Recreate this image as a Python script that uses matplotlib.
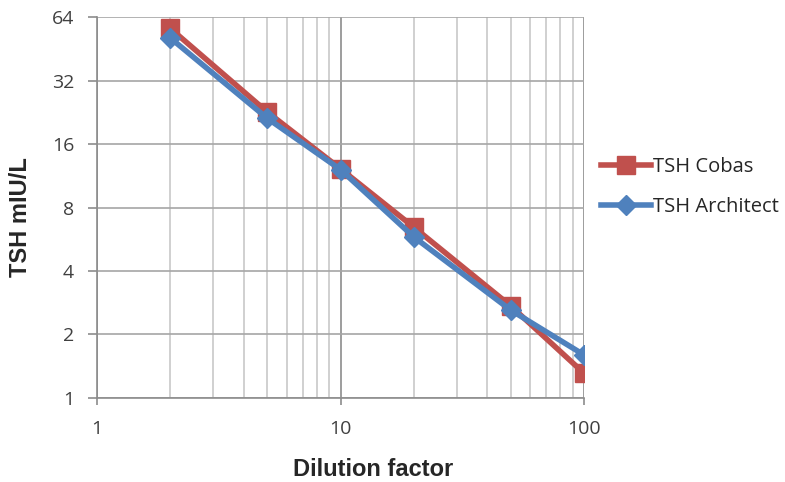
import matplotlib.pyplot as plt
import numpy as np
from matplotlib.ticker import FixedLocator, NullFormatter, NullLocator

dilution = [2, 5, 10, 20, 50, 100]
cobas = [56.5, 22.7, 12.2, 6.45, 2.73, 1.31]
architect = [50.9, 21.2, 12.1, 5.8, 2.61, 1.60]
yticks = [1, 2, 4, 8, 16, 32, 64]
xticks = [1, 10, 100]

red = '#C0504D'
blue = '#4F81BD'

fig = plt.figure(figsize=(7.85, 4.82), dpi=100)
ax = fig.add_axes([0.1236, 0.1743, 0.6204, 0.7904])

ax.set_xscale('log')
ax.set_yscale('log', base=2)
ax.set_xlim(1, 100)
ax.set_ylim(1, 64)

# grid
minor_x = [m * d for d in (1, 10) for m in range(2, 10)]
for v in minor_x:
    ax.axvline(v, color='#c8c8c8', lw=1.2, zorder=0)
for v in xticks:
    ax.axvline(v, color='#8c8c8c', lw=1.2, zorder=0)
for v in yticks:
    ax.axhline(v, color='#a6a6a6', lw=1.2, zorder=0)

ax.plot(dilution, cobas, color=red, lw=4, marker='s', ms=12.5,
        label='TSH Cobas', zorder=3)
ax.plot(dilution, architect, color=blue, lw=4, marker='D', ms=10,
        label='TSH Architect', zorder=4)

for s in ax.spines.values():
    s.set_visible(False)
ax.spines['left'].set_visible(True)
ax.spines['bottom'].set_visible(True)
ax.spines['left'].set_color('#8c8c8c')
ax.spines['bottom'].set_color('#8c8c8c')
ax.spines['left'].set_linewidth(1.2)
ax.spines['bottom'].set_linewidth(1.2)

ax.yaxis.set_major_locator(FixedLocator(yticks))
ax.set_yticklabels([str(v) for v in yticks])
ax.yaxis.set_minor_locator(NullLocator())
ax.xaxis.set_major_locator(FixedLocator(xticks))
ax.set_xticklabels([str(v) for v in xticks])
ax.xaxis.set_minor_locator(NullLocator())
ax.xaxis.set_minor_formatter(NullFormatter())

ax.tick_params(axis='both', colors='#8c8c8c', labelcolor='#404040',
               labelsize=14, width=1.2)
ax.tick_params(axis='y', length=6.5, pad=10)
ax.tick_params(axis='x', length=5, pad=11)
for lab in ax.get_xticklabels() + ax.get_yticklabels():
    lab.set_family('Open Sans')

ax.set_xlabel('Dilution factor', fontsize=17, fontweight='bold',
              family='Liberation Sans', color='#262626')
ax.xaxis.set_label_coords(0.567, -0.158)
ax.set_ylabel('TSH mIU/L', fontsize=17, fontweight='bold',
              family='Liberation Sans', color='#262626')
ax.yaxis.set_label_coords(-0.133, 0.475)

leg = fig.legend(loc='center left', bbox_to_anchor=(0.742, 0.612),
                 frameon=False, prop={'family': 'Open Sans', 'size': 14.5},
                 handlelength=2.5, handletextpad=0.1, labelspacing=1.0)
for t in leg.get_texts():
    t.set_color('#262626')

fig.savefig('out.png', dpi=100)
